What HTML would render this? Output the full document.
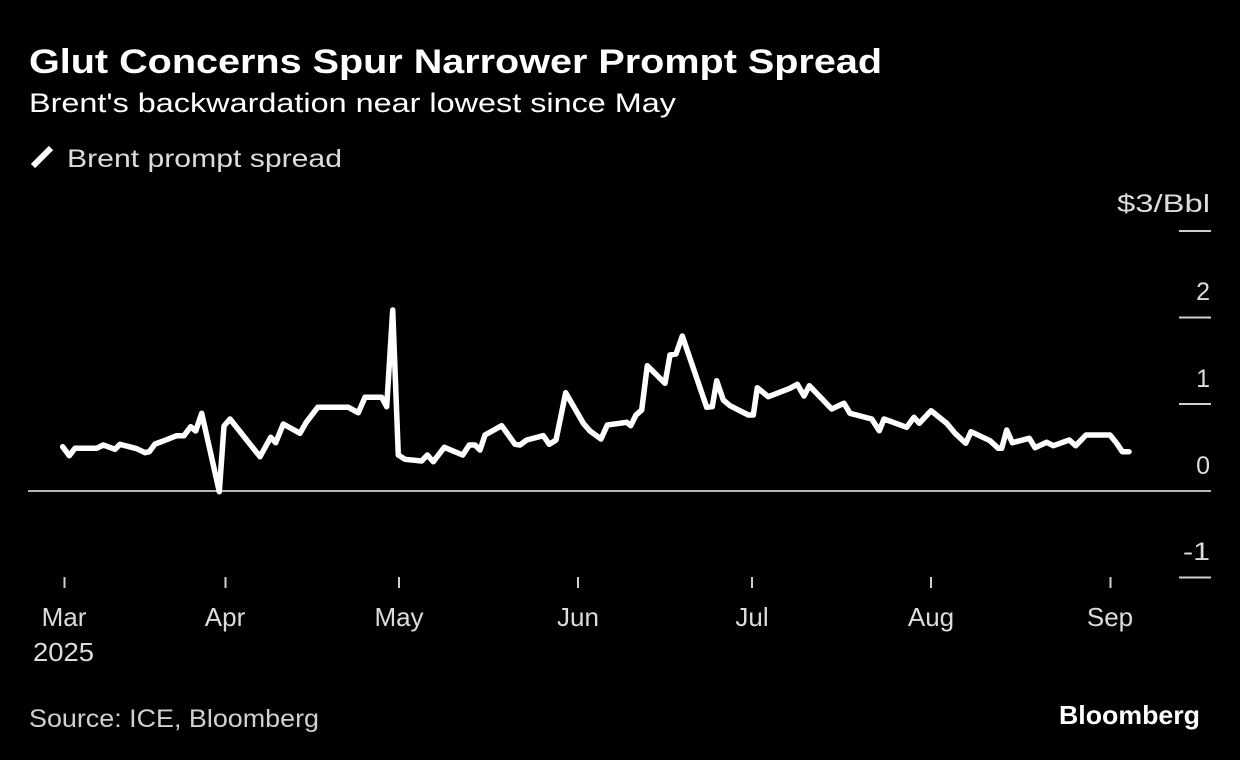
<!DOCTYPE html>
<html>
<head>
<meta charset="utf-8">
<style>
  html, body { margin: 0; padding: 0; background: #000; }
  body { width: 1240px; height: 760px; overflow: hidden; }
  svg { display: block; }
  text { font-family: "Liberation Sans", "DejaVu Sans", sans-serif; }
</style>
</head>
<body>
<svg width="1240" height="760" viewBox="0 0 1240 760" xmlns="http://www.w3.org/2000/svg">
  <rect x="0" y="0" width="1240" height="760" fill="#000"/>

  <!-- Title -->
  <text x="29" y="73" font-size="34" font-weight="bold" fill="#fff" textLength="853" lengthAdjust="spacingAndGlyphs">Glut Concerns Spur Narrower Prompt Spread</text>
  <text x="29" y="112" font-size="27" fill="#fff" textLength="647" lengthAdjust="spacingAndGlyphs">Brent's backwardation near lowest since May</text>

  <!-- Legend -->
  <line x1="33" y1="166" x2="51" y2="148" stroke="#fff" stroke-width="6"/>
  <text x="67" y="167" font-size="25" fill="#dcdcdc" textLength="275" lengthAdjust="spacingAndGlyphs">Brent prompt spread</text>

  <!-- Y axis -->
  <text x="1210" y="212" font-size="25" fill="#dcdcdc" text-anchor="end" textLength="93" lengthAdjust="spacingAndGlyphs">$3/Bbl</text>
  <line x1="1179" y1="231" x2="1211" y2="231" stroke="#cfcfcf" stroke-width="2"/>
  <text x="1210" y="300" font-size="25" fill="#dcdcdc" text-anchor="end">2</text>
  <line x1="1179" y1="317.5" x2="1211" y2="317.5" stroke="#cfcfcf" stroke-width="2"/>
  <text x="1210" y="387" font-size="25" fill="#dcdcdc" text-anchor="end">1</text>
  <line x1="1179" y1="404" x2="1211" y2="404" stroke="#cfcfcf" stroke-width="2"/>
  <text x="1210" y="474" font-size="25" fill="#dcdcdc" text-anchor="end">0</text>
  <text x="1210" y="560" font-size="25" fill="#dcdcdc" text-anchor="end" textLength="27" lengthAdjust="spacingAndGlyphs">-1</text>
  <line x1="1179" y1="577.5" x2="1211" y2="577.5" stroke="#cfcfcf" stroke-width="2"/>

  <!-- Zero line -->
  <line x1="28" y1="491" x2="1211" y2="491" stroke="#b5b5b5" stroke-width="2"/>

  <!-- X ticks -->
  <g stroke="#cfcfcf" stroke-width="2">
    <line x1="64.5" y1="577" x2="64.5" y2="588"/>
    <line x1="225.5" y1="577" x2="225.5" y2="588"/>
    <line x1="399" y1="577" x2="399" y2="588"/>
    <line x1="578" y1="577" x2="578" y2="588"/>
    <line x1="752" y1="577" x2="752" y2="588"/>
    <line x1="931" y1="577" x2="931" y2="588"/>
    <line x1="1110.5" y1="577" x2="1110.5" y2="588"/>
  </g>
  <g font-size="26" fill="#dcdcdc" text-anchor="middle">
    <text x="64" y="626">Mar</text>
    <text x="225" y="626">Apr</text>
    <text x="399" y="626">May</text>
    <text x="578" y="626">Jun</text>
    <text x="752" y="626">Jul</text>
    <text x="931" y="626">Aug</text>
    <text x="1110" y="626">Sep</text>
    <text x="63.5" y="661" textLength="61" lengthAdjust="spacingAndGlyphs">2025</text>
  </g>

  <!-- Series -->
  <polyline fill="none" stroke="#fff" stroke-width="5.5" stroke-linejoin="round" stroke-linecap="round"
    points="62.7,446.7 69.3,455.7 75,448.3 96.7,448.3 103.3,445 115,449.3 120,444.3 136.7,448.7 145,452.7 149.3,451.7 155,444 163.3,441 176.7,435.7 184,435.7 190.7,426.7 195.7,431 201.7,413.3 219.3,491.7 224,426 230,419 260,456.7 270.7,437.3 275.7,442.7 283.3,424 300,433.3 306,422.7 317.7,407.3 348.3,407.3 358.3,412.7 365,397.3 381.7,397.3 386.7,406.7 392.7,310 398.3,455 405,459.3 421.7,461 427.3,455 433.3,461.7 444.3,447.3 462.7,455 469.3,445 475,445 480,450 485,435 501.7,425.7 515,444.3 520,445 526.7,440 543.3,435.7 549.3,444.3 556,440 565.7,392.7 583.3,423.3 590,431 601,439 607.3,425 626.7,422.3 630.7,425.7 636,415 641.7,410 647.3,365.7 665,383.3 670,355 676,354 682.3,336 706.7,407.3 712.3,406.7 716.7,380.7 723.3,400 730,405.7 748.3,415 753.3,415 757.3,387.7 768.3,396.7 790,388.3 797.3,384.3 804,396 809.3,385.7 831.7,409 844,403.3 850,413.3 871.7,419 879.3,430.7 884,419 906.7,427.3 914,417.3 919.3,423.3 931,410.7 946.7,423.3 955,433.3 965.7,443.3 971,431.7 990,440.7 998.3,448.3 1001.7,448.3 1006.7,430 1012.3,442.7 1029.3,438.3 1035,447.7 1046.7,442.3 1053.3,445.7 1069.3,440 1075.7,445.7 1086,435 1110,435 1116.7,443.3 1122.3,451.7 1129,451.7"/>

  <!-- Footer -->
  <text x="29" y="727" font-size="25" fill="#d0d0d0" textLength="290" lengthAdjust="spacingAndGlyphs">Source: ICE, Bloomberg</text>
  <text x="1059" y="724" font-size="26" font-weight="bold" fill="#fff" textLength="141" lengthAdjust="spacingAndGlyphs">Bloomberg</text>
</svg>
</body>
</html>
